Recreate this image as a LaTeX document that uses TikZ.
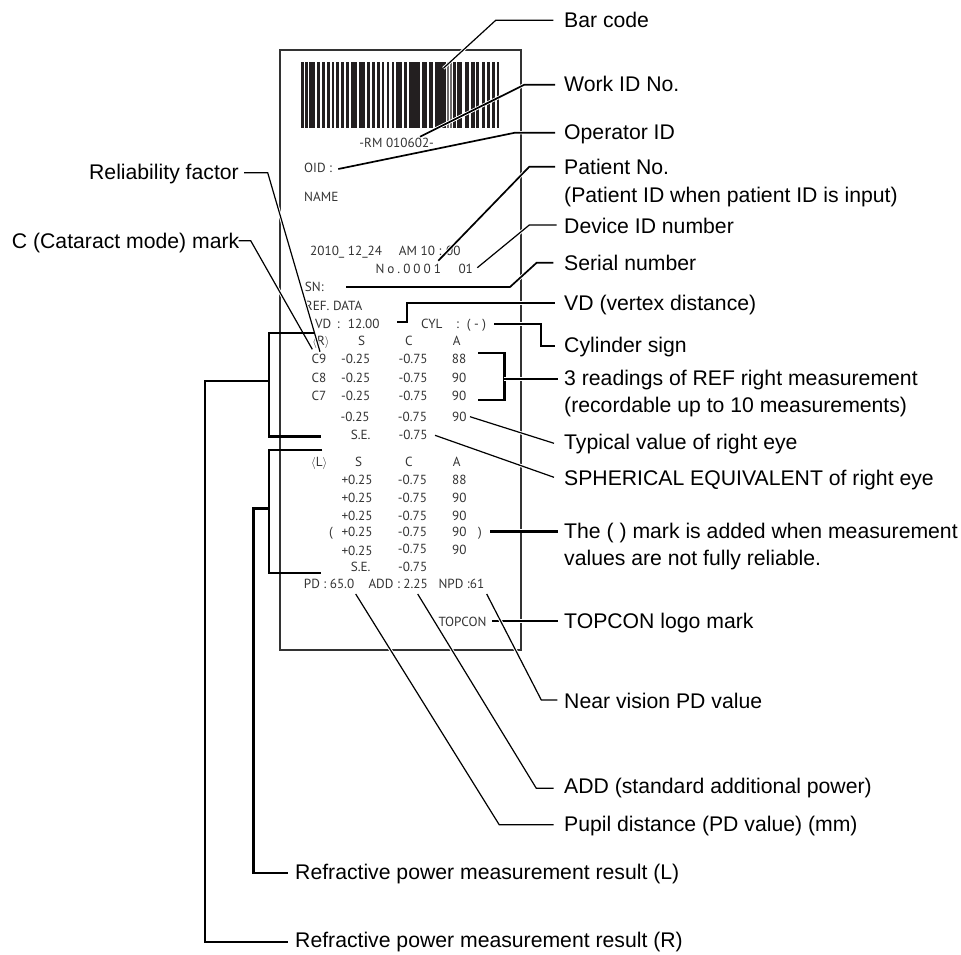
\documentclass[tikz,border=0pt]{standalone}
\usepackage{fontspec}
\setmainfont{Liberation Sans}
\newfontfamily\slipfont{PT Sans}
\definecolor{slip}{HTML}{333333}
\definecolor{barc}{HTML}{231F20}
\tikzset{
  lbl/.style={font=\fontsize{21.2}{26}\selectfont,inner sep=0pt,text height=15pt,text depth=0pt,text=black},
  lblR/.style={lbl,anchor=west},
  lblL/.style={lbl,anchor=east},
  txt/.style={font=\slipfont\fontsize{13.2}{15}\selectfont,inner sep=0pt,text=slip,text height=9pt,text depth=0pt},
  tl/.style={txt,anchor=west},
  tc/.style={txt,anchor=center},
  halo/.style={preaction={draw=white,line width=#1}},
  lead/.style={draw=black,line width=1.2pt,line join=miter,halo=3.2pt},
  leadm/.style={draw=black,line width=1.7pt,line join=miter,halo=3.4pt},
  leadt/.style={draw=black,line width=2.4pt,line join=miter,halo=3.8pt},
  brace/.style={draw=black,line width=2.4pt,line join=miter},
  frameline/.style={draw=slip,line width=2pt}
}
\begin{document}
\begin{tikzpicture}[x=1pt,y=-1pt]
\useasboundingbox (0,0) rectangle (961,954);
% printout frame
\path[frameline] (279.5,49.5) rectangle (520.5,649.5);
% bar code
\foreach \a/\b in {18/27,30/38,43/60,66/75,81/89,95/104,110/118,124/133,139/148,153/162,168/186,192/210,216/225,231/240,246/254,260/268,275/283,290/298,304/322}
  \fill[barc] ({295+\a/3},62.3) rectangle ({295+\b/3},128.3);
\foreach \a/\b in {12/21,27/60,66/80,86/100,106/137,160/168,172/186,195/208,213/224,229/238,246/254,261/269,276/284,290/298}
  \fill[barc] ({400+\a/3},62.3) rectangle ({400+\b/3},128.3);
\foreach \a/\b in {141/146,150/156}
  \fill[barc!65] ({400+\a/3},62.3) rectangle ({400+\b/3},128.3);
% printout text
\node[tc] (rm) at (396.7,143.3) {-RM 010602-};
\node[tl] (oid) at (304,168.3) {OID :};
\node[tl] (nm) at (304,196.7) {NAME};
\node[tl] (date) at (310,251) {2010\_ 12\_24};
\node[tl] (time) at (398.7,251) {AM 10 : 00};
\node[tl] (no) at (375.3,269.3) {N\hspace{3pt}o\hspace{3pt}.\hspace{3pt}0\hspace{3pt}0\hspace{3pt}0\hspace{3pt}1};
\node[tl] (dev) at (458.3,269.3) {01};
\node[tl] (sn) at (304.7,286.7) {SN:};
\node[tl] (ref) at (304.7,306) {REF. DATA};
\node[tl] (vd) at (315,324.3) {VD};
\node[tl] (vdc) at (336.7,324.3) {:};
\node[tl] (vdv) at (347.7,324.3) {12.00};
\node[tl] (cyl) at (421,324.3) {CYL};
\node[tl] (cylc) at (456,324.3) {:};
\node[tl] (cyls) at (466.7,324.3) {( - )};
% right eye
\node[tc] (rh) at (321,341.3) {$\langle$R$\rangle$};
\node[tc] (rs) at (361.7,341.3) {S};
\node[tc] (rc) at (409,341.3) {C};
\node[tc] (ra) at (456.7,341.3) {A};
\node[tc] (c9) at (319,359.3) {C9};
\node[tl] (r1s) at (341,359.3) {-0.25};
\node[tl] (r1c) at (398.3,359.3) {-0.75};
\node[tl] (r1a) at (451.7,359.3) {88};
\node[tc] (c8) at (319,377.7) {C8};
\node[tl] (r2s) at (341,377.7) {-0.25};
\node[tl] (r2c) at (398.3,377.7) {-0.75};
\node[tl] (r2a) at (451.7,377.7) {90};
\node[tc] (c7) at (319,395.7) {C7};
\node[tl] (r3s) at (341,395.7) {-0.25};
\node[tl] (r3c) at (398.3,395.7) {-0.75};
\node[tl] (r3a) at (451.7,395.7) {90};
\node[tl] (r4s) at (340.3,417.3) {-0.25};
\node[tl] (r4c) at (397.7,417.3) {-0.75};
\node[tl] (r4a) at (452,417.3) {90};
\node[tc] (rse) at (360.7,435.3) {S.E.};
\node[tl] (rsev) at (398.3,435.3) {-0.75};
% left eye
\node[tc] (lh) at (319.3,462.3) {$\langle$L$\rangle$};
\node[tc] (ls) at (358.7,462.3) {S};
\node[tc] (lc) at (409,462.3) {C};
\node[tc] (la) at (456.7,462.3) {A};
\node[tl] (l1s) at (341.3,480) {+0.25};
\node[tl] (l1c) at (397.7,480) {-0.75};
\node[tl] (l1a) at (452,480) {88};
\node[tl] (l2s) at (341.3,498) {+0.25};
\node[tl] (l2c) at (397.7,498) {-0.75};
\node[tl] (l2a) at (452,498) {90};
\node[tl] (l3s) at (341.3,516) {+0.25};
\node[tl] (l3c) at (397.7,516) {-0.75};
\node[tl] (l3a) at (452,516) {90};
\node[tc] (po) at (331,532.3) {(};
\node[tl] (l4s) at (341.3,532.3) {+0.25};
\node[tl] (l4c) at (397.7,532.3) {-0.75};
\node[tl] (l4a) at (452,532.3) {90};
\node[tc] (pc) at (480,532.3) {)};
\node[tl] (l5s) at (341.3,551) {+0.25};
\node[tl] (l5c) at (397.7,549.3) {-0.75};
\node[tl] (l5a) at (452,550.3) {90};
\node[tc] (lse) at (360.7,567.3) {S.E.};
\node[tl] (lsev) at (398,567.3) {-0.75};
\node[tl] (pd) at (303.7,584) {PD : 65.0};
\node[tl] (add) at (368.3,584) {ADD : 2.25};
\node[tl] (npd) at (438.3,584) {NPD :61};
\node[tl] (logo) at (438.3,622) {TOPCON};
% labels
\node[lblR] (Lbar) at (564,20) {Bar code};
\node[lblR] (Lwork) at (564,84) {Work ID No.};
\node[lblR] (Lop) at (564,132) {Operator ID};
\node[lblR,align=left] (Lpat) at (564,195) {Patient No.\\[2pt](Patient ID when patient ID is input)};
\node[lblR] (Ldev) at (564,226) {Device ID number};
\node[lblR] (Lser) at (564,263) {Serial number};
\node[lblR] (Lvd) at (564,303) {VD (vertex distance)};
\node[lblR] (Lcyl) at (564,345) {Cylinder sign};
\node[lblR,align=left] (Lthree) at (564,405) {3 readings of REF right measurement\\[1pt](recordable up to 10 measurements)};
\node[lblR] (Ltyp) at (564,442) {Typical value of right eye};
\node[lblR] (Lse) at (564,478) {SPHERICAL EQUIVALENT of right eye};
\node[lblR,align=left] (Lmark) at (564,558) {The ( ) mark is added when measurement\\[1pt]values are not fully reliable.};
\node[lblR] (Llogo) at (564,621) {TOPCON logo mark};
\node[lblR] (Lnear) at (564,701) {Near vision PD value};
\node[lblR] (Ladd) at (564,786) {ADD (standard additional power)};
\node[lblR] (Lpup) at (564,824) {Pupil distance (PD value) (mm)};
\node[lblR] (Lrl) at (295,872) {Refractive power measurement result (L)};
\node[lblR] (Lrr) at (295,940) {Refractive power measurement result (R)};
\node[lblL] (Lrel) at (239,172) {Reliability factor};
\node[lblL] (Lcat) at (239.5,241) {C (Cataract mode) mark};
% connector points
\coordinate (eBar) at (443.3,68.3);   \coordinate (kBar) at (495.7,20.3);
\coordinate (eWork) at (420,136.7);   \coordinate (kWork) at (524.3,84.7);
\coordinate (eOp) at (338.3,169);     \coordinate (kOp) at (515,132.7);
\coordinate (ePat) at (438.3,260.7);  \coordinate (kPat) at (529.3,166.7);
\coordinate (eDev) at (477.3,267.7);  \coordinate (kDev) at (529.3,225);
\coordinate (eSer) at (346,287);      \coordinate (mSer) at (510,287); \coordinate (kSer) at (536.7,262.7);
\coordinate (eVd) at (397.3,321.7);   \coordinate (mVd) at (406.7,321.7); \coordinate (kVd) at (406.7,302.7);
\coordinate (eCyl) at (494.3,323.7);  \coordinate (mCyl) at (541,323.7); \coordinate (kCyl) at (541,345.7);
\coordinate (t1) at (478.3,352.7); \coordinate (t2) at (504.3,352.7); \coordinate (t3) at (504.3,399.7); \coordinate (t4) at (478.3,399.7); \coordinate (t5) at (504.3,378.7);
\coordinate (eTyp) at (470,416.7);    \coordinate (kTyp) at (554,443.3);
\coordinate (eSe) at (435,435.3);     \coordinate (kSe) at (554,477.3);
\coordinate (eMark) at (490,531.3);
\coordinate (eLogo) at (492.3,621);
\coordinate (eNear) at (486.7,594);   \coordinate (kNear) at (541.3,700);
\coordinate (eAdd) at (417.7,594);    \coordinate (kAdd) at (536.3,788.3);
\coordinate (ePup) at (355.7,594);    \coordinate (kPup) at (499.2,824.7);
\coordinate (eRel) at (320,351.7);    \coordinate (kRel) at (267.7,172.7);
\coordinate (eCat) at (312.3,349.3);  \coordinate (kCat) at (250.7,240.7);
\coordinate (b1) at (315,332.7); \coordinate (b2) at (268.7,332.7); \coordinate (b3) at (268.7,436.3); \coordinate (b4) at (320.7,436.3); \coordinate (b5) at (268.7,381);
\coordinate (c1) at (322.3,450); \coordinate (c2) at (268.7,450); \coordinate (c3) at (268.7,572.7); \coordinate (c4) at (320.7,572.7); \coordinate (c5) at (268.7,508.6);
\coordinate (dR) at (205,381); \coordinate (dRb) at (205,941.7);
\coordinate (dL) at (253.3,508.6); \coordinate (dLb) at (253.3,872.7);
% connectors
\draw[lead] (eBar) -- (kBar) -- ([xshift=-10.7pt]Lbar.west |- kBar);
\draw[leadm] (eWork) -- (kWork) -- ([xshift=-9pt]Lwork.west |- kWork);
\draw[leadm] (eOp) -- (kOp) -- ([xshift=-9pt]Lop.west |- kOp);
\draw[leadm] (ePat) -- (kPat) -- ([xshift=-9pt]Lpat.west |- kPat);
\draw[lead] (eDev) -- (kDev) -- ([xshift=-7.3pt]Ldev.west |- kDev);
\draw[leadm] (eSer) -- (mSer) -- (kSer) -- ([xshift=-10.7pt]Lser.west |- kSer);
\draw[leadt] (eVd) -- (mVd) -- (kVd) -- ([xshift=-9pt]Lvd.west |- kVd);
\draw[leadt] (eCyl) -- (mCyl) -- (kCyl) -- ([xshift=-9pt]Lcyl.west |- kCyl);
\draw[leadt] (t1) -- (t2) -- (t3) -- (t4);
\draw[leadt] (t5) -- ([xshift=-6.3pt]Lthree.west |- t5);
\draw[lead] (eTyp) -- ([xshift=-10pt]Ltyp.west |- kTyp);
\draw[lead] (eSe) -- ([xshift=-10pt]Lse.west |- kSe);
\draw[leadt] (eMark) -- ([xshift=-6pt]Lmark.west |- eMark);
\draw[leadt] (eLogo) -- ([xshift=-6pt]Llogo.west |- eLogo);
\draw[lead] (eNear) -- (kNear) -- ([xshift=-6.6pt]Lnear.west |- kNear);
\draw[lead] (eAdd) -- (kAdd) -- ([xshift=-10.4pt]Ladd.west |- kAdd);
\draw[lead] (ePup) -- (kPup) -- ([xshift=-10.4pt]Lpup.west |- kPup);
\draw[lead] (eCat) -- (kCat) -- ([xshift=-1pt]Lcat.east |- kCat);
\draw[lead] (eRel) -- (kRel) -- ([xshift=5pt]Lrel.east |- kRel);
\draw[brace] (b1) -- (b2) -- (b3) -- (b4);
\draw[brace] (c1) -- (c2) -- (c3) -- (c4);
\draw[brace] (b5) -- (dR) -- (dRb) -- ([xshift=-7.4pt]Lrr.west |- dRb);
\draw[brace] (c5) -- (dL) -- (dLb) -- ([xshift=-7.4pt]Lrl.west |- dLb);
\end{tikzpicture}
\end{document}
